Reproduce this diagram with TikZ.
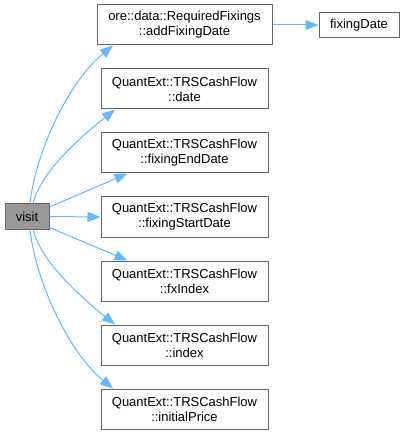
\documentclass[tikz,border=0pt]{standalone}
\usepackage{fontspec}
\setmainfont{Liberation Sans}
\usetikzlibrary{arrows.meta}
\definecolor{edgeblue}{HTML}{63B8FF}
\definecolor{boxborder}{HTML}{666666}
\definecolor{rootfill}{HTML}{999999}
\begin{document}
\begin{tikzpicture}[x=1pt,y=-1pt,
  box/.style={draw=boxborder,line width=1pt,fill=white,align=center,inner sep=0pt,
    font=\fontsize{13}{15}\selectfont,text=black},
  fn/.style={box,minimum width=167pt,minimum height=40pt},
  edge/.style={draw=edgeblue,line width=1pt,-{Triangle[length=13pt,width=10pt]}}]
\useasboundingbox (0,0) rectangle (404,435);
\node[box,fill=rootfill,minimum width=44pt,minimum height=25pt] (visit) at (27,216.5) {visit};
\node[box,minimum width=175pt,minimum height=40pt] (add) at (184.5,25) {ore::data::RequiredFixings\\::addFixingDate};
\node[box,minimum width=80pt,minimum height=25pt] (fd) at (359,25) {fixingDate};
\node[fn] (date) at (184.5,89) {QuantExt::TRSCashFlow\\::date};
\node[fn] (fed) at (184.5,153) {QuantExt::TRSCashFlow\\::fixingEndDate};
\node[fn] (fsd) at (184.5,217) {QuantExt::TRSCashFlow\\::fixingStartDate};
\node[fn] (fx) at (184.5,281) {QuantExt::TRSCashFlow\\::fxIndex};
\node[fn] (idx) at (184.5,345) {QuantExt::TRSCashFlow\\::index};
\node[fn] (ip) at (184.5,409) {QuantExt::TRSCashFlow\\::initialPrice};

\draw[edge] (add.east) -- (fd.west);
\draw[edge] ([xshift=3pt]visit.north) .. controls +(6,-54) and +(-43,35) .. ([xshift=-71.5pt]add.south);
\draw[edge] ([xshift=6pt]visit.north) .. controls +(8,-32) and +(-35,28) .. ([xshift=-69.5pt]date.south);
\draw[edge] ([yshift=9.5pt]visit.east) -- ([xshift=-57pt]fed.south);
\draw[edge] (visit.east) -- (fsd.west);
\draw[edge] ([yshift=-11pt]visit.east) -- ([xshift=-57pt]fx.north);
\draw[edge] ([xshift=6pt]visit.south) .. controls +(8,32) and +(-35,-28) .. ([xshift=-69.5pt]idx.north);
\draw[edge] ([xshift=3pt]visit.south) .. controls +(6,54) and +(-43,-35) .. ([xshift=-71.5pt]ip.north);
\end{tikzpicture}
\end{document}
